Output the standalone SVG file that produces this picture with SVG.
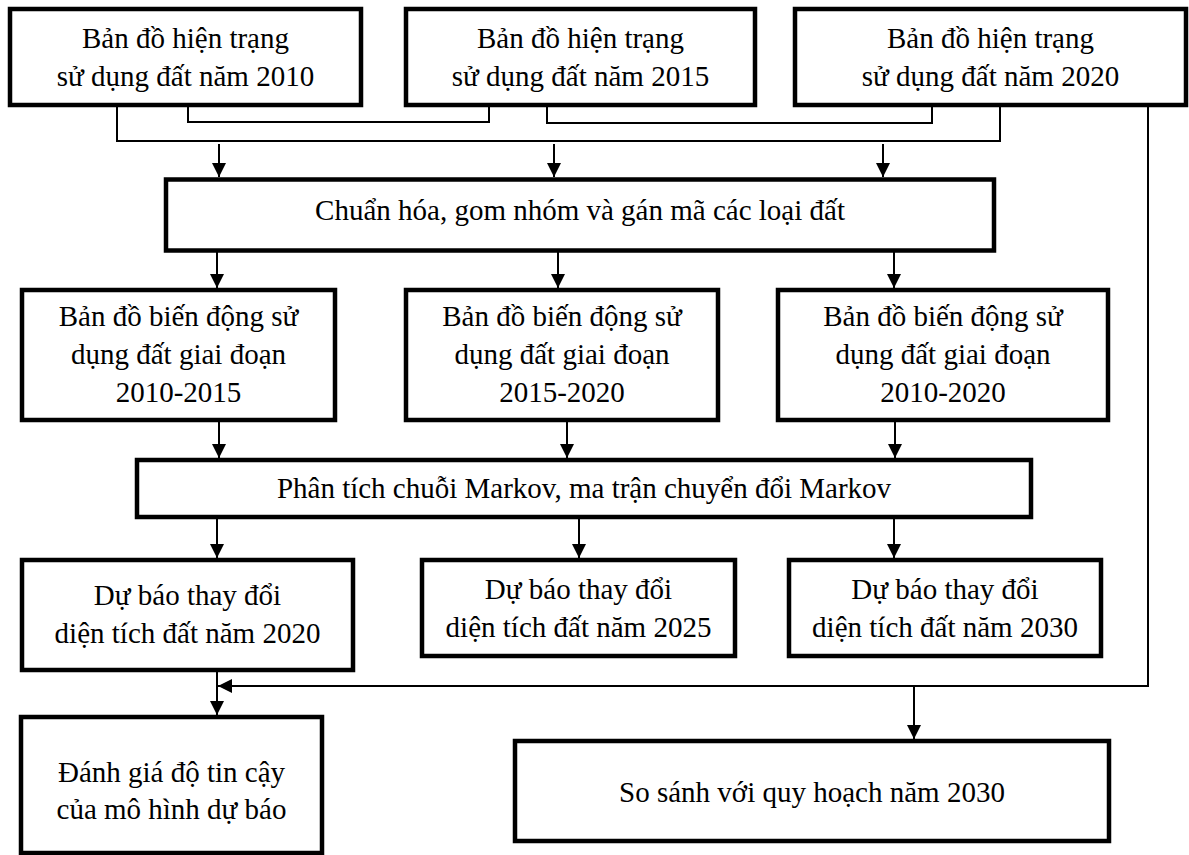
<svg xmlns="http://www.w3.org/2000/svg" width="1189" height="855" viewBox="0 0 1189 855">
<defs>
<marker id="arr" markerWidth="14" markerHeight="14" refX="14" refY="7" orient="auto" markerUnits="userSpaceOnUse">
<path d="M0,0 L14,7 L0,14 z" fill="#000"/>
</marker>
<style>
.box{fill:#fff;stroke:#000;stroke-width:4.5}
.t{font-family:"Liberation Serif","Times New Roman",serif;font-size:29px;fill:#000;text-anchor:middle}
.c{fill:none;stroke:#000;stroke-width:2}
.a{fill:none;stroke:#000;stroke-width:2;marker-end:url(#arr)}
</style>
</defs>
<rect width="1189" height="855" fill="#fff"/>
<g id="connectors">
<polyline class="c" points="117,107 117,141 1000,141 1000,107"/>
<polyline class="c" points="188,107 188,122 489,122 489,107"/>
<polyline class="c" points="547,107 547,123 932,123 932,107"/>
<line class="a" x1="219" y1="144" x2="219" y2="177"/>
<line class="a" x1="554" y1="144" x2="554" y2="177"/>
<line class="a" x1="883" y1="144" x2="883" y2="177"/>
<line class="a" x1="217" y1="252" x2="217" y2="288"/>
<line class="a" x1="558" y1="252" x2="558" y2="288"/>
<line class="a" x1="894" y1="252" x2="894" y2="288"/>
<line class="a" x1="219" y1="422" x2="219" y2="458"/>
<line class="a" x1="567" y1="422" x2="567" y2="458"/>
<line class="a" x1="895" y1="422" x2="895" y2="458"/>
<line class="a" x1="217" y1="519" x2="217" y2="558"/>
<line class="a" x1="579" y1="519" x2="579" y2="558"/>
<line class="a" x1="894" y1="519" x2="894" y2="558"/>
<line class="a" x1="217" y1="672" x2="217" y2="715"/>
<polyline class="a" points="1148,107 1148,686 218,686"/>
<line class="a" x1="914" y1="686" x2="914" y2="739"/>
</g>
<g id="n1"><rect class="box" x="10" y="9" width="351" height="96"/><text class="t" x="185.5" y="48">Bản đồ hiện trạng</text><text class="t" x="185.5" y="86">sử dụng đất năm 2010</text></g>
<g id="n2"><rect class="box" x="406" y="9" width="349" height="96"/><text class="t" x="580.5" y="48">Bản đồ hiện trạng</text><text class="t" x="580.5" y="86">sử dụng đất năm 2015</text></g>
<g id="n3"><rect class="box" x="795" y="9" width="391" height="96"/><text class="t" x="990.5" y="48">Bản đồ hiện trạng</text><text class="t" x="990.5" y="86">sử dụng đất năm 2020</text></g>
<g id="n4"><rect class="box" x="166" y="179.5" width="828" height="71"/><text class="t" x="580" y="220">Chuẩn hóa, gom nhóm và gán mã các loại đất</text></g>
<g id="n5"><rect class="box" x="22" y="290" width="313" height="130"/><text class="t" x="178.5" y="326">Bản đồ biến động sử</text><text class="t" x="178.5" y="364">dụng đất giai đoạn</text><text class="t" x="178.5" y="402">2010-2015</text></g>
<g id="n6"><rect class="box" x="406" y="290" width="312" height="130"/><text class="t" x="562" y="326">Bản đồ biến động sử</text><text class="t" x="562" y="364">dụng đất giai đoạn</text><text class="t" x="562" y="402">2015-2020</text></g>
<g id="n7"><rect class="box" x="778" y="290" width="330" height="130"/><text class="t" x="943" y="326">Bản đồ biến động sử</text><text class="t" x="943" y="364">dụng đất giai đoạn</text><text class="t" x="943" y="402">2010-2020</text></g>
<g id="n8"><rect class="box" x="137" y="460" width="894" height="57"/><text class="t" x="584" y="498">Phân tích chuỗi Markov, ma trận chuyển đổi Markov</text></g>
<g id="n9"><rect class="box" x="22" y="560" width="331" height="110"/><text class="t" x="187.5" y="605">Dự báo thay đổi</text><text class="t" x="187.5" y="643">diện tích đất năm 2020</text></g>
<g id="n10"><rect class="box" x="422" y="560" width="313" height="96"/><text class="t" x="578.5" y="599">Dự báo thay đổi</text><text class="t" x="578.5" y="637">diện tích đất năm 2025</text></g>
<g id="n11"><rect class="box" x="789" y="560" width="312" height="96"/><text class="t" x="945" y="599">Dự báo thay đổi</text><text class="t" x="945" y="637">diện tích đất năm 2030</text></g>
<g id="n12"><rect class="box" x="21" y="717" width="301" height="136"/><text class="t" x="171.5" y="782">Đánh giá độ tin cậy</text><text class="t" x="171.5" y="819">của mô hình dự báo</text></g>
<g id="n13"><rect class="box" x="515" y="741" width="594" height="100"/><text class="t" x="812" y="802">So sánh với quy hoạch năm 2030</text></g>
</svg>
